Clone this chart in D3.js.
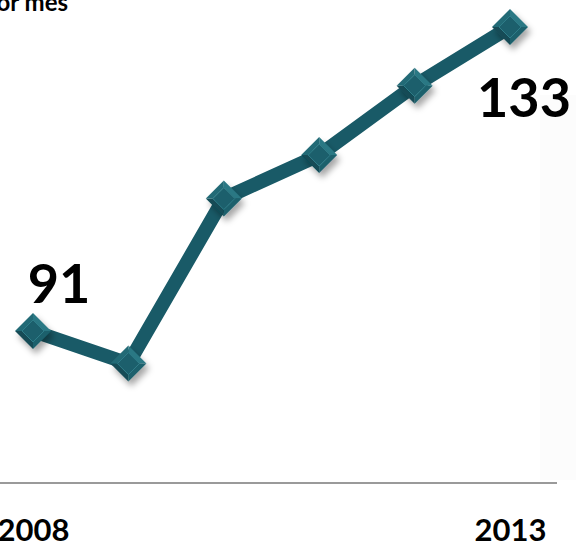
<!DOCTYPE html>
<html>
<head>
<meta charset="utf-8">
<script src="https://cdn.jsdelivr.net/npm/d3@7"></script>
<style>
  html, body { margin: 0; padding: 0; background: #ffffff; }
  svg { display: block; }
  text { font-family: Lato, "Open Sans", sans-serif; font-weight: 700; fill: #000; }
</style>
</head>
<body>
<svg id="chart" width="576" height="546"></svg>
<script>
// Monthly value per year
const years = ["2008", "2009", "2010", "2011", "2012", "2013"];
const values = [91, 86.5, 109.3, 115.3, 124.9, 133];
const tickLabels = ["2008", "2013"];
const valueLabels = [
  { year: "2008", value: 91 },
  { year: "2013", value: 133 }
];
const title = "por mes";

const svg = d3.select("#chart");

const x = d3.scalePoint().domain(years).range([33, 510]);
const y = d3.scaleLinear().domain([70, 133]).range([483, 27]);

// soft shadow for the markers
const defs = svg.append("defs");
const f = defs.append("filter").attr("id", "shadow")
  .attr("x", "-50%").attr("y", "-50%").attr("width", "200%").attr("height", "200%");
f.append("feDropShadow").attr("dx", 3).attr("dy", 5).attr("stdDeviation", 3)
  .attr("flood-color", "#000").attr("flood-opacity", 0.35);

// faint panel on the right
svg.append("rect").attr("x", 540).attr("y", 95).attr("width", 36).attr("height", 385)
  .attr("fill", "#fcfcfc");

// title fragment
svg.append("text").attr("x", 68).attr("y", 11).attr("text-anchor", "end")
  .attr("font-size", 24).text(title);

// baseline axis
const axis = svg.append("g").attr("transform", `translate(0,${y(70)})`)
  .call(d3.axisBottom(x).tickValues(tickLabels).tickSize(0).tickPadding(36));
axis.select(".domain").attr("d", "M0,0H557").attr("stroke", "#9a9a9a").attr("stroke-width", 2);
axis.selectAll("text").attr("font-size", 31).attr("font-family", "Lato, sans-serif")
  .attr("font-weight", 700).attr("fill", "#000");

// series line
const line = d3.line().x((d, i) => x(years[i])).y(d => y(d));
svg.append("path").datum(values).attr("d", line)
  .attr("fill", "none").attr("stroke", "#195a67").attr("stroke-width", 14)
  .attr("stroke-linejoin", "miter");

// bevelled diamond markers
const R = 18, r = 11;
const m = svg.append("g").selectAll("g").data(values).join("g")
  .attr("transform", (d, i) => `translate(${x(years[i])},${y(d)})`)
  .attr("filter", "url(#shadow)");
const O = [[0, -R], [R, 0], [0, R], [-R, 0]];
const I = [[0, -r], [r, 0], [0, r], [-r, 0]];
const facetColors = ["#2c7884", "#1c606c", "#124b56", "#236a76"];
for (let k = 0; k < 4; k++) {
  const a = O[k], b = O[(k + 1) % 4], c = I[(k + 1) % 4], e = I[k];
  m.append("path").attr("d", `M${a}L${b}L${c}L${e}Z`).attr("fill", facetColors[k]);
}
m.append("path").attr("d", `M${I[0]}L${I[1]}L${I[2]}L${I[3]}Z`)
  .attr("fill", "#1b5f6c").attr("stroke", "#2f7c88").attr("stroke-width", 1);

// value labels
svg.append("g").selectAll("text").data(valueLabels).join("text")
  .attr("x", d => x(d.year) + (d.year === "2008" ? 26 : 14))
  .attr("y", d => y(d.value) + (d.year === "2008" ? -28 : 90))
  .attr("text-anchor", "middle").attr("font-size", 54)
  .text(d => d.value);
</script>
</body>
</html>
